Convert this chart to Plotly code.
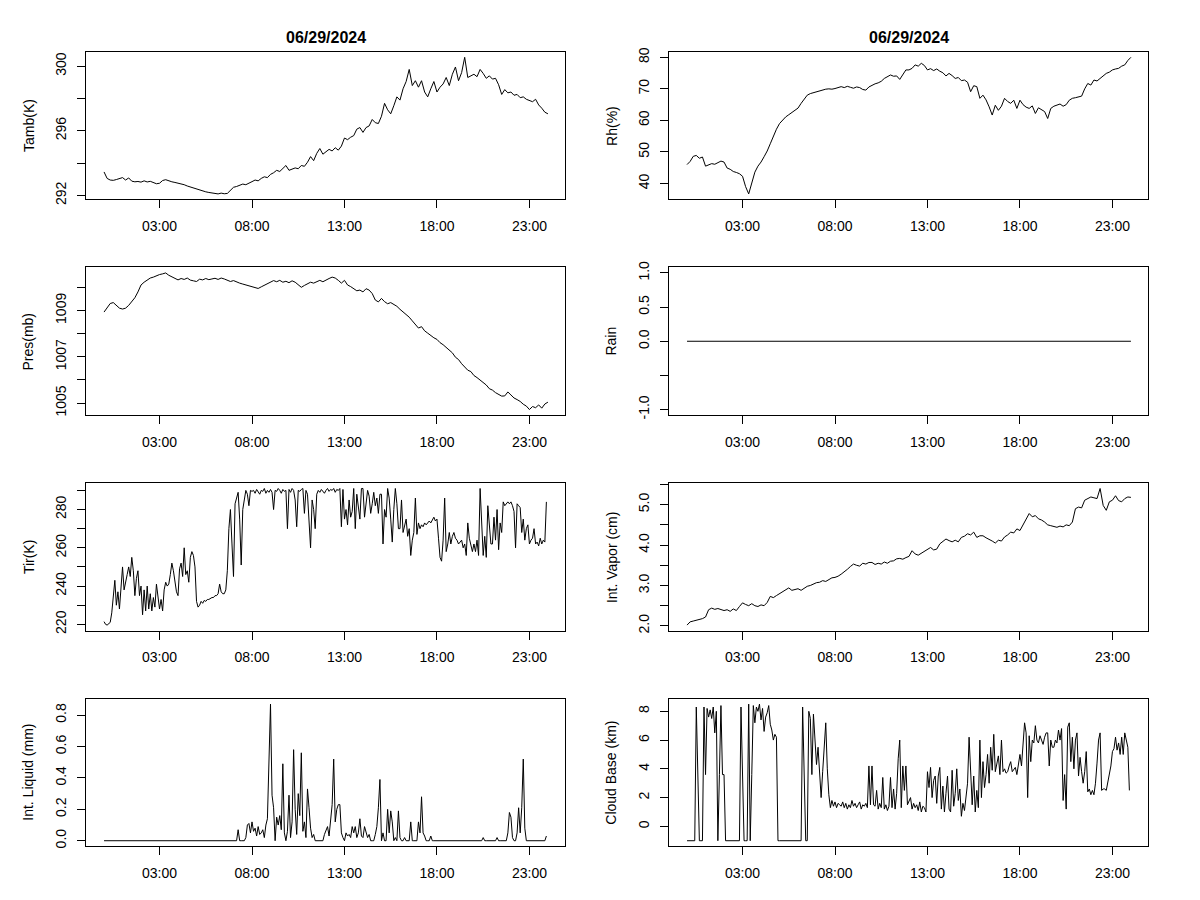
import plotly.graph_objects as go

WIDTH, HEIGHT = 1200, 900
FONT = "Liberation Sans, Arial, sans-serif"
DATE_LABEL = "06/29/2024"

# time of day in hours, the record runs 00:00 - 23:59
DAY_START = 0.0
DAY_END = 23.98
HOUR_TICKS = [3, 8, 13, 18, 23]
HOUR_LABELS = ["03:00", "08:00", "13:00", "18:00", "23:00"]

# ---- 10-minute samples (one row per hour) ----
TAMB = [
    293.45, 293.05, 292.95, 292.93, 292.98, 293.02,
    293.10, 292.95, 293.08, 292.88, 292.84, 292.86,
    292.82, 292.90, 292.83, 292.87, 292.78, 292.72,
    292.75, 292.92, 292.97, 292.88, 292.84, 292.80,
    292.76, 292.70, 292.66, 292.58, 292.52, 292.45,
    292.38, 292.30, 292.27, 292.22, 292.18, 292.15,
    292.12, 292.09, 292.14, 292.10, 292.12, 292.30,
    292.50, 292.55, 292.62, 292.70, 292.66, 292.78,
    292.85, 292.95, 292.90, 293.05, 293.15, 293.10,
    293.30, 293.40, 293.55, 293.48, 293.70, 293.85,
    293.55, 293.62, 293.70, 293.65, 293.85, 293.80,
    294.05, 294.40, 294.15, 294.60, 294.90, 294.55,
    294.70, 294.85, 294.75, 294.95, 294.80, 295.05,
    295.55, 295.45, 295.60, 295.70, 296.10, 296.20,
    295.90, 296.20, 296.30, 296.70, 296.50, 296.45,
    296.90, 297.70, 297.30, 297.05, 297.55, 298.10,
    297.90, 298.60, 299.05, 299.80, 298.80, 299.10,
    298.70, 299.10, 298.40, 298.10, 298.60, 299.05,
    298.40, 298.70, 298.90, 299.30, 298.80, 299.50,
    299.95, 299.10, 299.60, 300.55, 299.30, 299.40,
    299.50, 299.35, 299.80, 299.55, 299.25, 299.40,
    299.20, 299.25, 298.85, 298.25, 298.55, 298.35,
    298.40, 298.20, 298.25, 298.05, 298.10, 297.95,
    297.85, 297.80, 297.95, 297.60, 297.40, 297.15,
    297.05,
]

RH = [
    46.0, 47.0, 48.6, 48.9, 48.0, 48.4,
    45.5, 45.8, 46.3, 46.1, 46.6, 47.1,
    46.8, 44.9, 44.5, 43.8, 43.5, 43.1,
    42.3, 39.0, 36.7, 40.5, 43.6, 45.5,
    46.8, 48.5, 50.3, 52.6, 55.0, 57.2,
    59.0, 60.2, 61.1, 61.8, 62.6, 63.4,
    63.9, 65.4, 66.8, 68.0, 68.5, 68.8,
    69.1, 69.4, 69.6, 69.9, 70.0, 69.9,
    70.1, 70.3, 70.7, 70.4, 70.8, 70.5,
    70.2, 70.6, 70.4, 69.8, 69.6, 70.6,
    71.2, 71.6, 71.9, 72.4, 73.3, 73.8,
    74.4, 74.0, 74.1, 73.0, 74.5, 76.0,
    76.0, 76.5, 77.6, 77.2, 78.1, 77.4,
    76.0, 76.4, 75.8, 76.3, 75.6, 75.1,
    74.1, 74.9, 74.2, 73.3, 73.6, 72.6,
    72.8, 72.1, 69.1, 71.0, 70.7, 67.0,
    68.0, 66.5, 64.3, 61.7, 64.8, 63.2,
    64.5, 67.0, 66.0, 65.4, 66.4, 63.8,
    66.4, 65.0, 64.2, 63.8, 64.6, 62.2,
    64.0, 63.5, 62.8, 60.6, 63.8, 64.5,
    64.8, 65.2, 64.5, 65.0, 66.4, 67.0,
    67.2, 67.5, 67.7, 70.0, 71.7, 71.2,
    72.8, 72.5, 73.3, 73.8, 74.9, 75.3,
    76.0, 76.3, 76.5, 77.2, 77.6, 79.0,
    80.0,
]

PRES = [
    1008.93, 1009.10, 1009.30, 1009.34, 1009.22, 1009.10,
    1009.06, 1009.10, 1009.22, 1009.40, 1009.55, 1009.80,
    1010.10, 1010.22, 1010.30, 1010.40, 1010.44, 1010.50,
    1010.55, 1010.58, 1010.62, 1010.52, 1010.46, 1010.40,
    1010.32, 1010.38, 1010.34, 1010.40, 1010.31, 1010.28,
    1010.25, 1010.35, 1010.32, 1010.38, 1010.33, 1010.36,
    1010.39, 1010.34, 1010.40, 1010.36, 1010.30, 1010.25,
    1010.29, 1010.22, 1010.18, 1010.14, 1010.10, 1010.06,
    1010.03, 1009.98, 1009.95, 1010.02, 1010.08, 1010.17,
    1010.20, 1010.29, 1010.24, 1010.30, 1010.22, 1010.26,
    1010.20, 1010.28, 1010.22, 1010.12, 1010.00, 1010.08,
    1010.16, 1010.22, 1010.18, 1010.25, 1010.30, 1010.24,
    1010.32, 1010.38, 1010.44, 1010.40, 1010.30, 1010.18,
    1010.30, 1010.10, 1010.03, 1009.92, 1009.85, 1009.88,
    1009.80, 1009.94, 1009.88, 1009.73, 1009.45, 1009.37,
    1009.52, 1009.38, 1009.29, 1009.34, 1009.26, 1009.18,
    1009.05, 1008.93, 1008.85, 1008.71, 1008.55, 1008.41,
    1008.24, 1008.30, 1008.12, 1008.02, 1007.90, 1007.82,
    1007.75, 1007.61, 1007.52, 1007.39, 1007.28, 1007.17,
    1006.98, 1006.88, 1006.70, 1006.58, 1006.42, 1006.36,
    1006.19, 1006.10, 1006.00, 1005.90, 1005.78, 1005.62,
    1005.56, 1005.45, 1005.37, 1005.30, 1005.31, 1005.48,
    1005.35, 1005.22, 1005.15, 1005.07, 1004.95, 1004.87,
    1004.72, 1004.85, 1004.80, 1004.92, 1004.78, 1004.96,
    1005.04,
]

VAPOR = [
    2.02, 2.10, 2.12, 2.14, 2.16, 2.18,
    2.22, 2.40, 2.44, 2.41, 2.43, 2.40,
    2.38, 2.40, 2.36, 2.42, 2.38, 2.48,
    2.57, 2.53, 2.50, 2.55, 2.50, 2.48,
    2.52, 2.50, 2.58, 2.73, 2.70, 2.75,
    2.80, 2.86, 2.90, 2.94, 2.88, 2.90,
    2.92, 2.88, 2.94, 2.98, 3.00, 3.04,
    3.07, 3.08, 3.12, 3.10, 3.15, 3.19,
    3.20, 3.23, 3.28, 3.33, 3.40, 3.47,
    3.53, 3.50, 3.48, 3.55, 3.53, 3.57,
    3.57, 3.52, 3.55, 3.53, 3.58, 3.55,
    3.60, 3.61, 3.66, 3.67, 3.65, 3.69,
    3.72, 3.86, 3.78, 3.75, 3.80, 3.83,
    3.90, 3.94, 3.88, 3.90, 4.03, 4.10,
    4.15, 4.11, 4.08, 4.12, 4.08, 4.19,
    4.22, 4.28, 4.25, 4.32, 4.19, 4.23,
    4.23, 4.18, 4.15, 4.10, 4.05, 4.12,
    4.10, 4.20, 4.25, 4.32, 4.30, 4.40,
    4.36, 4.50, 4.65, 4.78, 4.70, 4.73,
    4.65, 4.62, 4.57, 4.50, 4.48, 4.46,
    4.44, 4.47, 4.45, 4.50, 4.48, 4.57,
    4.90, 4.94, 4.92, 5.11, 5.15, 5.19,
    5.17, 5.15, 5.40, 4.98, 4.86, 5.07,
    5.11, 5.22, 5.10, 5.07, 5.15, 5.19,
    5.18,
]

# no rain recorded all day
RAIN = [0.0] * 145

# ---- 5-minute samples (one row per hour) ----
TIR = [
    221.4, 220.0, 219.6, 220.2, 221.0, 226.0, 234.0, 243.0, 230.0, 237.0, 228.0, 241.0,
    250.0, 238.0, 243.0, 246.0, 250.0, 245.0, 255.0, 248.0, 235.0, 244.0, 248.0, 235.0,
    240.0, 225.0, 238.0, 227.0, 240.0, 228.0, 236.0, 227.0, 234.0, 229.0, 241.0, 233.0,
    228.0, 233.0, 227.0, 238.0, 242.0, 240.0, 241.0, 246.0, 252.0, 248.0, 243.0, 237.0,
    235.0, 249.0, 252.0, 245.0, 260.0, 246.0, 248.0, 242.0, 255.0, 258.0, 256.0, 250.0,
    232.0, 229.0, 230.0, 232.0, 231.0, 232.5, 232.0, 233.0, 233.0, 233.5, 234.0, 234.0,
    235.0, 235.0, 236.0, 241.0, 237.0, 236.0, 236.0, 238.0, 248.0, 270.0, 280.0, 262.0,
    245.0, 283.0, 286.0, 289.0, 275.0, 251.0, 280.0, 285.0, 290.0, 288.0, 282.0, 290.0,
    289.5, 290.0, 288.5, 290.5, 289.0, 288.0, 290.0, 289.5, 291.0, 288.5, 290.0, 289.0,
    290.5, 289.0, 280.0, 290.0, 289.5, 291.0, 290.0, 288.5, 290.5, 289.5, 290.0, 270.0,
    290.5, 289.0, 291.0, 290.0, 285.0, 271.0, 290.0, 289.5, 290.5, 291.0, 278.0, 290.0,
    288.0, 276.0, 260.0, 285.0, 280.0, 270.0, 288.0, 290.0, 289.0, 290.5, 289.5, 288.5,
    290.0, 291.0, 289.5, 290.5, 290.0, 291.0, 289.0, 290.5, 290.0, 291.0, 271.0, 290.5,
    275.0, 280.0, 272.0, 285.0, 276.0, 279.0, 291.0, 270.0, 288.0, 282.0, 275.0, 291.0,
    291.0, 276.0, 284.0, 290.0, 287.0, 278.0, 283.0, 289.0, 282.0, 286.0, 278.0, 288.0,
    288.0, 262.0, 280.0, 276.0, 291.0, 286.0, 275.0, 263.0, 280.0, 291.0, 283.0, 270.0,
    270.0, 285.0, 268.0, 272.0, 275.0, 266.0, 270.0, 256.0, 264.0, 268.0, 286.0, 267.0,
    273.0, 270.0, 272.0, 271.0, 273.0, 272.0, 273.0, 274.0, 273.0, 275.0, 276.0, 274.0,
    275.0, 265.0, 255.0, 253.0, 264.0, 286.0, 258.0, 262.0, 268.0, 262.0, 266.0, 268.0,
    265.0, 264.0, 262.0, 263.0, 264.0, 260.0, 262.0, 256.0, 273.0, 265.0, 262.0, 258.0,
    262.0, 258.0, 264.0, 256.0, 291.0, 270.0, 256.0, 266.0, 255.0, 282.0, 270.0, 262.0,
    262.0, 276.0, 264.0, 280.0, 259.0, 273.0, 268.0, 284.0, 282.0, 283.0, 284.0, 283.0,
    284.0, 282.0, 279.0, 260.0, 283.0, 282.0, 281.0, 268.0, 275.0, 264.0, 270.0, 272.0,
    262.0, 264.0, 265.0, 270.0, 262.0, 263.0, 261.0, 265.0, 262.0, 264.0, 263.0, 284.0,
]

LIQUID = (
    [0.0] * 84  # 00:00 - 06:55, no liquid water
    + [
        0.0, 0.0, 0.0, 0.07, 0.0, 0.0, 0.0, 0.0, 0.02, 0.10, 0.11, 0.05,
        0.12, 0.06, 0.08, 0.03, 0.09, 0.04, 0.05, 0.07, 0.02, 0.10, 0.14, 0.46,
        0.87, 0.29, 0.21, 0.0, 0.15, 0.10, 0.16, 0.07, 0.49, 0.05, 0.0, 0.06,
        0.29, 0.02, 0.12, 0.58, 0.20, 0.04, 0.30, 0.16, 0.56, 0.06, 0.12, 0.02,
        0.33, 0.21, 0.08, 0.02, 0.04, 0.0, 0.0, 0.0, 0.0, 0.0, 0.0, 0.04,
        0.06, 0.09, 0.03, 0.13, 0.23, 0.52, 0.12, 0.20, 0.23, 0.23, 0.05, 0.02,
        0.0, 0.05, 0.03, 0.04, 0.02, 0.09, 0.05, 0.09, 0.02, 0.05, 0.14, 0.03,
        0.02, 0.09, 0.06, 0.02, 0.04, 0.0, 0.0, 0.0, 0.04, 0.09, 0.21, 0.39,
        0.0, 0.05, 0.0, 0.0, 0.20, 0.05, 0.19, 0.12, 0.0, 0.02, 0.0, 0.19,
        0.02, 0.0, 0.0, 0.02, 0.0, 0.0, 0.0, 0.12, 0.0, 0.0, 0.0, 0.0,
        0.12, 0.05, 0.28, 0.05, 0.03, 0.0, 0.0, 0.0, 0.03, 0.0, 0.0, 0.0,
    ]
    + [0.0] * 24  # 18:00 - 19:55
    + [
        0.0, 0.0, 0.0, 0.0, 0.0, 0.0, 0.02, 0.0, 0.0, 0.0, 0.0, 0.0,
        0.0, 0.0, 0.0, 0.02, 0.0, 0.0, 0.0, 0.0, 0.0, 0.0, 0.05, 0.18,
        0.15, 0.02, 0.0, 0.0, 0.05, 0.21, 0.05, 0.21, 0.52, 0.08, 0.0, 0.0,
        0.0, 0.0, 0.0, 0.0, 0.0, 0.0, 0.0, 0.0, 0.0, 0.0, 0.0, 0.03,
    ]
)

# -1 marks "no cloud detected"
CLOUD = [
    -1, -1, -1, -1, -1, -1, 8.3, 3.6, -1, -1, -1, 8.3,
    3.6, 8.2, 7.6, 8.1, 7.5, 8.3, 6.5, 8.0, -1, 3.6, 8.4, 3.6,
    3.6, -1, -1, -1, -1, -1, -1, -1, -1, -1, -1, 8.3,
    3.6, -1, -1, -1, 8.5, -1, 3.6, 8.4, 7.2, 8.3, 8.0, 8.5,
    7.4, 8.2, 6.6, 7.6, 7.9, 8.4, 7.1, 6.7, 6.0, 6.4, 6.2, -1,
    -1, -1, -1, -1, -1, -1, -1, -1, -1, -1, -1, -1,
    -1, -1, -1, 8.3, 3.6, -1, -1, 8.0, 7.5, 3.6, 7.8, 6.0,
    4.3, 5.5, 3.5, 2.0, 3.8, 5.5, 7.2, 4.0, 2.2, 1.3, 1.8, 1.4,
    1.7, 1.3, 1.6, 1.5, 1.4, 1.7, 1.3, 1.6, 1.2, 1.5, 1.3, 1.8,
    1.4, 1.6, 1.3, 1.5, 1.7, 1.2, 1.5, 1.4, 1.6, 1.3, 4.2, 1.5,
    4.2, 1.5, 1.4, 2.5, 1.2, 1.6, 1.3, 3.4, 1.2, 1.5, 1.1, 1.4,
    3.4, 1.3, 2.6, 1.2, 2.3, 4.7, 6.0, 1.3, 4.2, 2.5, 4.2, 1.5,
    1.8, 2.0, 1.2, 1.6, 1.3, 1.5, 1.1, 1.7, 1.0, 1.4, 1.3, 1.0,
    3.8, 2.7, 4.1, 2.0, 3.2, 3.5, 1.6, 3.5, 4.1, 1.2, 2.8, 1.0,
    2.3, 3.5, 1.2, 1.0, 3.9, 1.4, 2.3, 4.0, 1.8, 2.6, 0.7, 1.6,
    1.1, 2.1, 3.0, 6.2, 3.5, 1.5, 3.5, 1.0, 2.5, 1.3, 6.0, 2.0,
    4.5, 2.7, 3.6, 5.0, 3.0, 5.5, 3.9, 6.4, 3.8, 4.5, 4.9, 3.6,
    6.0, 3.8, 4.0, 3.7, 3.8, 4.2, 4.5, 3.8, 4.0, 4.1, 3.6, 4.2,
    5.0, 4.2, 5.5, 7.2, 6.5, 2.0, 6.3, 4.5, 6.0, 5.8, 7.0, 6.0,
    5.8, 6.3, 6.0, 5.7, 6.2, 6.5, 6.5, 4.2, 6.0, 5.5, 5.5, 6.0,
    5.8, 6.7, 6.0, 6.8, 1.8, 3.6, 1.2, 6.9, 7.2, 4.5, 6.2, 4.0,
    6.0, 6.5, 3.5, 4.8, 3.8, 3.0, 3.8, 5.2, 2.4, 2.6, 2.2, 2.5,
    2.2, 3.0, 4.4, 6.0, 6.5, 2.5, 2.6, 2.6, 2.5, 3.0, 3.5, 4.2,
    5.2, 5.4, 6.2, 5.3, 5.8, 5.0, 6.2, 5.0, 6.5, 6.0, 5.5, 2.5,
]

# y tick marks; R drops labels that would collide, so some stay blank
TAMB_TICKS = [292, 294, 296, 298, 300]
TAMB_LABELS = ["292", "", "296", "", "300"]
RH_TICKS = [40, 50, 60, 70, 80]
RH_LABELS = ["40", "50", "60", "70", "80"]
PRES_TICKS = [1005, 1006, 1007, 1008, 1009, 1010]
PRES_LABELS = ["1005", "", "1007", "", "1009", ""]
RAIN_TICKS = [-1.0, -0.5, 0.0, 0.5, 1.0]
RAIN_LABELS = ["-1.0", "", "0.0", "0.5", "1.0"]
TIR_TICKS = [220, 230, 240, 250, 260, 270, 280, 290]
TIR_LABELS = ["220", "", "240", "", "260", "", "280", ""]
VAPOR_TICKS = [2.0, 2.5, 3.0, 3.5, 4.0, 4.5, 5.0, 5.5]
VAPOR_LABELS = ["2.0", "", "3.0", "", "4.0", "", "5.0", ""]
LIQUID_TICKS = [0.0, 0.2, 0.4, 0.6, 0.8]
LIQUID_LABELS = ["0.0", "0.2", "0.4", "0.6", "0.8"]
CLOUD_TICKS = [0, 2, 4, 6, 8]
CLOUD_LABELS = ["0", "2", "4", "6", "8"]

# plot boxes in pixels: columns (left, right), rows (top, bottom)
COLS = [(86.3, 565.3), (669.3, 1148.3)]
ROWS = [(45.5, 195.2), (264.3, 414.0), (483.0, 632.7), (701.8, 851.5)]
TITLE_Y = 30.8
TITLE_OFFSET = 58  # px from box edge to y title centre


def r_range(lo, hi):
    # base R pads the data range by 4% on each side
    pad = 0.04 * (hi - lo)
    return [lo - pad, hi + pad]


AXIS_STYLE = dict(
    showline=True,
    mirror=True,
    linecolor="black",
    linewidth=1,
    ticks="outside",
    ticklen=8,
    tickwidth=1,
    tickcolor="black",
    showgrid=False,
    zeroline=False,
    tickfont=dict(family=FONT, size=14, color="black"),
)


def add_panel(fig, n, row, col, values, step, y_title, tickvals, ticktext, y_range=None):
    times = [i * step for i in range(len(values))]
    xname = "x" if n == 1 else f"x{n}"
    yname = "y" if n == 1 else f"y{n}"
    fig.add_trace(
        go.Scatter(
            x=times,
            y=values,
            mode="lines",
            line=dict(color="black", width=1),
            xaxis=xname,
            yaxis=yname,
            showlegend=False,
            hoverinfo="skip",
        )
    )

    left, right = COLS[col]
    top, bottom = ROWS[row]
    if y_range is None:
        y_range = r_range(min(values), max(values))

    fig.update_layout(
        **{
            f"xaxis{'' if n == 1 else n}": dict(
                AXIS_STYLE,
                domain=[left / WIDTH, right / WIDTH],
                anchor=yname,
                range=r_range(DAY_START, DAY_END),
                tickvals=HOUR_TICKS,
                ticktext=HOUR_LABELS,
                ticklabelstandoff=6,
            ),
            f"yaxis{'' if n == 1 else n}": dict(
                AXIS_STYLE,
                domain=[1 - bottom / HEIGHT, 1 - top / HEIGHT],
                anchor=xname,
                range=y_range,
                tickvals=tickvals,
                ticktext=ticktext,
                tickangle=-90,
                ticklabelstandoff=6,
            ),
        }
    )

    fig.add_annotation(
        text=y_title,
        xref="paper",
        yref="paper",
        x=(left - TITLE_OFFSET) / WIDTH,
        y=1 - (top + bottom) / 2 / HEIGHT,
        textangle=-90,
        showarrow=False,
        xanchor="center",
        yanchor="middle",
        font=dict(family=FONT, size=14, color="black"),
    )
    if row == 0:
        fig.add_annotation(
            text=f"<b>{DATE_LABEL}</b>",
            xref="paper",
            yref="paper",
            x=(left + right) / 2 / WIDTH,
            y=1 - TITLE_Y / HEIGHT,
            showarrow=False,
            xanchor="center",
            yanchor="middle",
            font=dict(family=FONT, size=16, color="black"),
        )


fig = go.Figure()
add_panel(fig, 1, 0, 0, TAMB, 1 / 6, "Tamb(K)", TAMB_TICKS, TAMB_LABELS)
add_panel(fig, 2, 0, 1, RH, 1 / 6, "Rh(%)", RH_TICKS, RH_LABELS)
add_panel(fig, 3, 1, 0, PRES, 1 / 6, "Pres(mb)", PRES_TICKS, PRES_LABELS)
add_panel(fig, 4, 1, 1, RAIN, 1 / 6, "Rain", RAIN_TICKS, RAIN_LABELS, y_range=[-1.08, 1.08])
add_panel(fig, 5, 2, 0, TIR, 1 / 12, "Tir(K)", TIR_TICKS, TIR_LABELS)
add_panel(fig, 6, 2, 1, VAPOR, 1 / 6, "Int. Vapor (cm)", VAPOR_TICKS, VAPOR_LABELS)
add_panel(fig, 7, 3, 0, LIQUID, 1 / 12, "Int. Liquid (mm)", LIQUID_TICKS, LIQUID_LABELS)
add_panel(fig, 8, 3, 1, CLOUD, 1 / 12, "Cloud Base (km)", CLOUD_TICKS, CLOUD_LABELS)

fig.update_layout(
    width=WIDTH,
    height=HEIGHT,
    margin=dict(l=0, r=0, t=0, b=0),
    paper_bgcolor="white",
    plot_bgcolor="white",
    font=dict(family=FONT, size=14, color="black"),
    showlegend=False,
)

# pin the page to exactly the figure size so nothing shifts it
PAGE_FIX = (
    "for (const el of [document.documentElement, document.body]) {"
    "el.style.margin='0'; el.style.padding='0'; el.style.overflow='hidden';"
    "el.style.width='1200px'; el.style.height='900px';}"
)

fig.write_html(
    "out.html",
    config={"displayModeBar": False},
    post_script=PAGE_FIX,
)
